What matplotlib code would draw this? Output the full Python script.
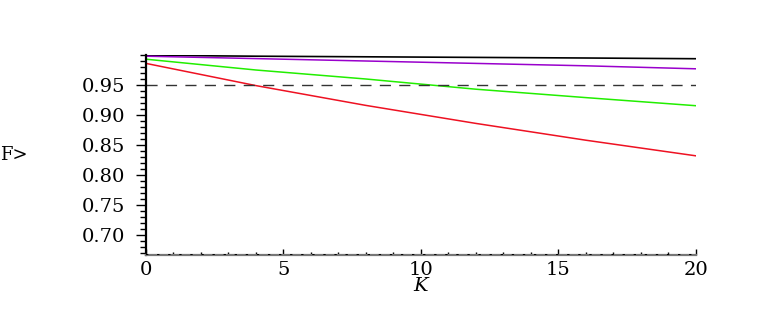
import numpy as np
import matplotlib
matplotlib.use("Agg")
import matplotlib.pyplot as plt
from matplotlib.ticker import MultipleLocator, FormatStrFormatter

# values (mean fidelity vs K)
K = [0, 4, 8, 12, 16, 20]
F_black = [0.9995, 0.998, 0.997, 0.996, 0.995, 0.9938]
F_purple = [0.998, 0.994, 0.990, 0.986, 0.982, 0.977]
F_green = [0.993, 0.975, 0.960, 0.943, 0.929, 0.9155]
F_red = [0.986, 0.949, 0.916, 0.886, 0.858, 0.832]
F_threshold = 0.95
F_classical = 2.0 / 3.0
y_ticks = [0.70, 0.75, 0.80, 0.85, 0.90, 0.95]
x_ticks = [0, 5, 10, 15, 20]

serif = ["DejaVu Serif", "Liberation Serif"]

fig = plt.figure(figsize=(7.63, 3.27), dpi=100)
ax = fig.add_axes([0.1913, 0.2202, 0.7205, 0.6116])

ax.plot(K, F_black, color="black", lw=1.2)
ax.plot(K, F_purple, color="#9900cc", lw=1.1)
ax.plot(K, F_green, color="#22ee00", lw=1.1)
ax.plot(K, F_red, color="#ee1122", lw=1.1)
ax.axhline(F_threshold, color="#333333", lw=1.0, dashes=(8, 6))
ax.axhline(F_classical, color="black", lw=1.4, dashes=(1.2, 4.5), zorder=5)

ax.set_xlim(0, 20)
ax.set_ylim(F_classical, 1.0)

for side in ("top", "right"):
    ax.spines[side].set_visible(False)
ax.spines["left"].set_linewidth(1.6)
ax.spines["bottom"].set_linewidth(1.6)
ax.spines["bottom"].set_color("#777777")

ax.set_yticks(y_ticks)
ax.yaxis.set_minor_locator(MultipleLocator(0.01))
ax.yaxis.set_major_formatter(FormatStrFormatter("%.2f"))
ax.set_xticks(x_ticks)
ax.xaxis.set_minor_locator(MultipleLocator(1))

ax.tick_params(axis="y", which="major", direction="out", length=7, width=1.0, pad=8)
ax.tick_params(axis="y", which="minor", direction="out", length=4, width=1.0)
ax.tick_params(axis="x", which="major", direction="in", length=4, width=1.0, pad=4)
ax.tick_params(axis="x", which="minor", direction="in", length=2, width=1.0)

for lab in ax.get_xticklabels() + ax.get_yticklabels():
    lab.set_family(serif)
    lab.set_fontsize(14)

ax.set_xlabel("K", family=serif, fontsize=14, style="italic", labelpad=-1)
fig.text(0.0, 0.525, "F>", family=serif, fontsize=13,
         ha="left", va="center")

fig.savefig("out.png", dpi=100)
